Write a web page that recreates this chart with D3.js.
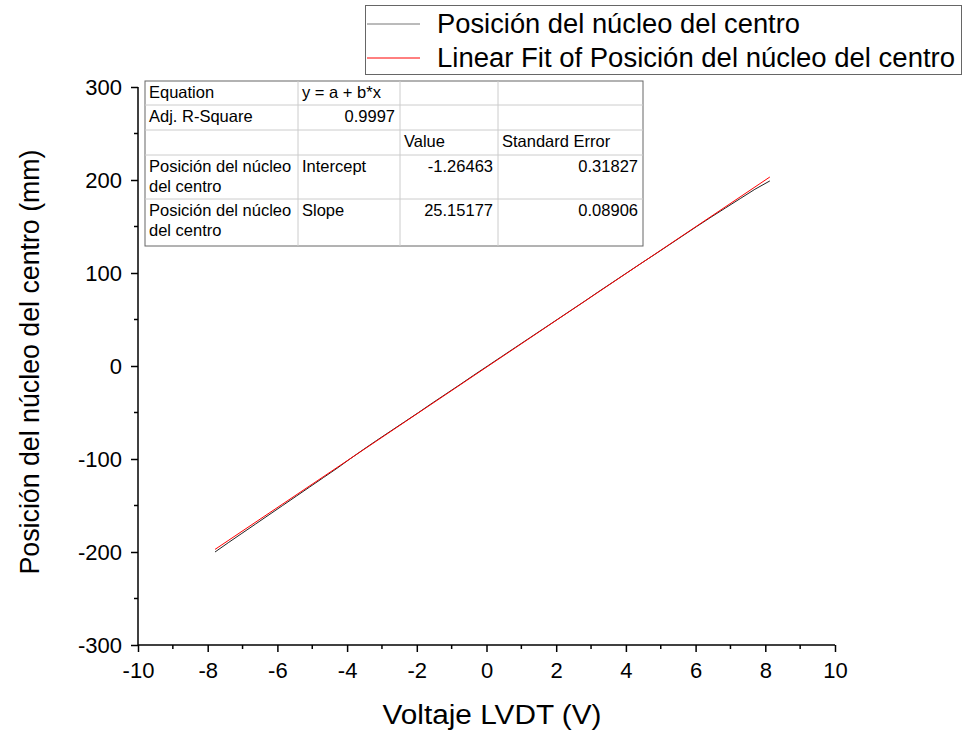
<!DOCTYPE html>
<html><head><meta charset="utf-8">
<script src="https://cdn.jsdelivr.net/npm/d3@7"></script>
<style>body{margin:0;background:#fff}svg{display:block;font-family:Arial,"Liberation Sans",sans-serif}</style>
</head><body><svg id="c" width="964" height="740"></svg>
<script>
// Data: Voltaje LVDT (V) vs Posición del núcleo del centro (mm)
const voltage = [-7.79,-7.41,-7.02,-6.63,-6.24,-5.85,-5.46,-5.07,-4.68,-4.29,-3.92,-3.54,-3.15,-2.75,-2.35,-1.95,-1.56,-1.16,-0.76,-0.37,0.03,0.43,0.83,1.23,1.63,2.03,2.43,2.83,3.22,3.62,4.02,4.42,4.83,5.23,5.63,6.03,6.44,6.86,7.28,7.70,8.13];
const position = [-200,-190,-180,-170,-160,-150,-140,-130,-120,-110,-100,-90,-80,-70,-60,-50,-40,-30,-20,-10,0,10,20,30,40,50,60,70,80,90,100,110,120,130,140,150,160,170,180,190,199];
const fitIntercept = -1.26463;
const fitSlope = 25.15177;
const xTicks = [-10,-8,-6,-4,-2,0,2,4,6,8,10];
const yTicks = [-300,-200,-100,0,100,200,300];
const legendLabels = ["Posición del núcleo del centro","Linear Fit of Posición del núcleo del centro"];
const tableRows = [
  ["Equation","y = a + b*x","",""],
  ["Adj. R-Square","0.9997","",""],
  ["","","Value","Standard Error"],
  ["Posición del núcleo|del centro","Intercept","-1.26463","0.31827"],
  ["Posición del núcleo|del centro","Slope","25.15177","0.08906"]
];

const svg = d3.select("#c");
const x = d3.scaleLinear().domain([-10,10]).range([138,835]);
const y = d3.scaleLinear().domain([-300,300]).range([645,87]);
const fmt = d => String(d);

// axes
const xAxis = d3.axisBottom(x).tickValues(xTicks).tickSize(7).tickPadding(10).tickFormat(fmt);
const gx = svg.append("g").attr("transform","translate(0,645)").call(xAxis);
gx.append("g").selectAll("line").data(d3.range(-9,10,2)).join("line")
  .attr("x1",d=>x(d)).attr("x2",d=>x(d)).attr("y1",0).attr("y2",4).attr("stroke","#000").attr("stroke-width",1.5);
const yAxis = d3.axisLeft(y).tickValues(yTicks).tickSize(7).tickPadding(9).tickFormat(fmt);
const gy = svg.append("g").attr("transform","translate(138,0)").call(yAxis);
gy.append("g").selectAll("line").data(d3.range(-250,300,100)).join("line")
  .attr("y1",d=>y(d)).attr("y2",d=>y(d)).attr("x1",0).attr("x2",-4).attr("stroke","#000").attr("stroke-width",1.5);
[gx,gy].forEach(g=>{
  g.select(".domain").attr("stroke","#000").attr("stroke-width",1.5);
  g.selectAll(".tick line").attr("stroke","#000").attr("stroke-width",1.5);
  g.selectAll(".tick text").attr("font-size",22).attr("font-family","Arial, Liberation Sans, sans-serif").attr("fill","#000");
});
gx.select(".domain").attr("d","M138,0H835");
gy.select(".domain").attr("d","M0,87V645");

// axis titles
svg.append("text").attr("x",492).attr("y",724).attr("text-anchor","middle").attr("font-size",27)
  .attr("textLength",219).attr("lengthAdjust","spacingAndGlyphs").text("Voltaje LVDT (V)");
svg.append("text").attr("transform","translate(39,362) rotate(-90)").attr("text-anchor","middle").attr("font-size",27)
  .attr("textLength",425).attr("lengthAdjust","spacingAndGlyphs").text("Posición del núcleo del centro (mm)");

// data line
const pts = voltage.map((v,i)=>[v,position[i]]);
svg.append("path").datum(pts).attr("fill","none").attr("stroke","#222").attr("stroke-width",1)
  .attr("d",d3.line().x(d=>x(d[0])).y(d=>y(d[1])));
// fit line
const xr = d3.extent(voltage);
svg.append("path").datum(xr.map(v=>[v,fitIntercept+fitSlope*v])).attr("fill","none").attr("stroke","#ff0000").attr("stroke-width",1)
  .attr("d",d3.line().x(d=>x(d[0])).y(d=>y(d[1])));

// table
const colX = [145,298,400,498,643];
const rowY = [81,105,130,155,199,246];
const tg = svg.append("g").attr("font-size",16.5);
tg.append("rect").attr("x",colX[0]).attr("y",rowY[0]).attr("width",colX[4]-colX[0]).attr("height",rowY[5]-rowY[0]).attr("fill","#fff").attr("stroke","#666").attr("stroke-width",1);
colX.slice(1,4).forEach(cx=>tg.append("line").attr("x1",cx).attr("x2",cx).attr("y1",rowY[0]).attr("y2",rowY[5]).attr("stroke","#ccc"));
rowY.slice(1,5).forEach(ry=>tg.append("line").attr("x1",colX[0]).attr("x2",colX[4]).attr("y1",ry).attr("y2",ry).attr("stroke","#ccc"));
tableRows.forEach((row,ri)=>{
  row.forEach((cell,ci)=>{
    if(!cell) return;
    const right = (ri===1&&ci===1)||(ri>=3&&ci>=2);
    const lines = cell.split("|");
    lines.forEach((ln,li)=>{
      tg.append("text").attr("x",right?colX[ci+1]-5:colX[ci]+4).attr("y",rowY[ri]+17+li*20)
        .attr("text-anchor",right?"end":"start").attr("fill","#000").text(ln);
    });
  });
});

// legend
const lg = svg.append("g");
lg.append("rect").attr("x",365.5).attr("y",5.5).attr("width",596).attr("height",69).attr("fill","#fff").attr("stroke","#666");
const lc = ["#777","#ff0000"];
const lw = [363,518];
legendLabels.forEach((t,i)=>{
  const yy = 24+i*34;
  lg.append("line").attr("x1",367).attr("x2",420).attr("y1",yy).attr("y2",yy).attr("stroke",lc[i]).attr("stroke-width",1);
  lg.append("text").attr("x",437).attr("y",yy+9).attr("font-size",27).attr("fill","#000")
    .attr("textLength",lw[i]).attr("lengthAdjust","spacingAndGlyphs").text(t);
});
</script></body></html>
